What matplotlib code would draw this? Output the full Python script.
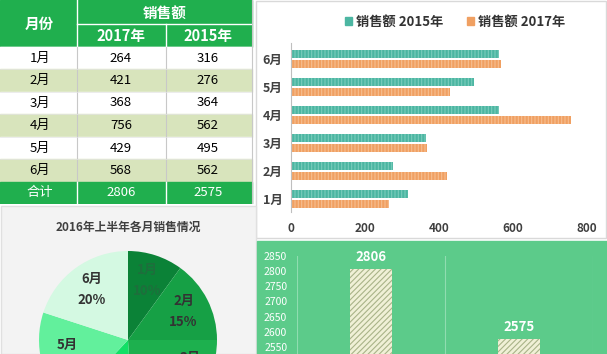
import numpy as np
import matplotlib.pyplot as plt
from matplotlib.patches import Rectangle, Patch

plt.rcParams['font.family'] = ['Noto Sans CJK SC', 'DejaVu Sans']
plt.rcParams['hatch.linewidth'] = 0.8

# data
months = ['1月', '2月', '3月', '4月', '5月', '6月']
sales_2017 = [264, 421, 368, 756, 429, 568]
sales_2015 = [316, 276, 364, 562, 495, 562]
pie_share_2016 = [10, 15, 24, 13, 18, 20]   # percent, 2016 first half
total_2017 = sum(sales_2017)
total_2015 = sum(sales_2015)
totals = [total_2017, total_2015]

W, H = 607, 354
fig = plt.figure(figsize=(W / 100, H / 100), dpi=100)


# pixel box (left, top, width, height) -> figure fraction
def box(x, y, w, h):
    return [x / W, 1 - (y + h) / H, w / W, h / H]


def panel(x, y, w, h, face, edge):
    fig.patches.append(Rectangle((x / W, 1 - (y + h) / H), w / W, h / H,
                                 transform=fig.transFigure, facecolor=face,
                                 edgecolor=edge, linewidth=1, zorder=-10))


panel(256, 0.5, 350, 237, 'white', '#D9D9D9')
panel(0.5, 206, 255, 148, '#F3F3F3', '#E0E0E0')
panel(257, 241, 350, 113, '#5CCB8A', '#5CCB8A')

# ---------------- table ----------------
green = '#20AF4E'
band = '#D8E4BC'
ax_t = fig.add_axes(box(0, 0, 255, 204))
ax_t.set_xlim(0, 255)
ax_t.set_ylim(204, 0)
ax_t.axis('off')
cols = [0, 77, 166, 252]
rows = [47, 69.3, 91.7, 114.3, 136.7, 159.3, 181.7, 203.5]
ax_t.add_patch(Rectangle((0, 0), 252, 47, color=green))
for i in range(6):
    c = 'white' if i % 2 == 0 else band
    ax_t.add_patch(Rectangle((0, rows[i]), 252, rows[i + 1] - rows[i], color=c))
ax_t.add_patch(Rectangle((0, rows[6]), 252, rows[7] - rows[6], color=green))
# grid lines
ax_t.plot([77, 252], [24, 24], color='white', lw=1)
ax_t.plot([0, 252], [47, 47], color='white', lw=1)
ax_t.plot([166, 166], [24, 47], color='white', lw=1)
ax_t.plot([77, 77], [0, 47], color='white', lw=1)
for x in cols[1:3]:
    ax_t.plot([x, x], [47, rows[6]], color='#C8C8C8', lw=0.8)
    ax_t.plot([x, x], [rows[6], rows[7]], color='white', lw=1)
for y in rows[1:6]:
    ax_t.plot([0, 252], [y, y], color='#E4E4E4', lw=0.5)
ax_t.plot([252, 252], [0, rows[7]], color='#C8C8C8', lw=0.8)

hdr = dict(color='white', fontsize=10.5, fontweight='bold', ha='center', va='center')
ax_t.text(39, 24, '月份', **hdr)
ax_t.text(165, 13, '销售额', **hdr)
ax_t.text(121, 36, '2017年', **hdr)
ax_t.text(208, 36, '2015年', **hdr)
cell = dict(color='black', fontsize=9.5, ha='center', va='center')
for i in range(6):
    yc = (rows[i] + rows[i + 1]) / 2
    ax_t.text(40, yc, months[i], **cell)
    ax_t.text(121, yc, str(sales_2017[i]), **cell)
    ax_t.text(208, yc, str(sales_2015[i]), **cell)
yc = (rows[6] + rows[7]) / 2
tot = dict(color='white', fontsize=9.5, ha='center', va='center')
ax_t.text(40, yc, '合计', **tot)
ax_t.text(121, yc, str(total_2017), **tot)
ax_t.text(208, yc, str(total_2015), **tot)

# ---------------- horizontal bars ----------------
teal = '#4CB6A2'
orange = '#F0A062'
ax_b = fig.add_axes(box(291, 43, 296, 169))
ypos = list(range(len(months)))
ax_b.barh([y + 0.19 for y in ypos], sales_2015, 0.29, color=teal,
          edgecolor='#7ACCBC', hatch='|||||', linewidth=0)
ax_b.barh([y - 0.19 for y in ypos], sales_2017, 0.29, color=orange,
          edgecolor='#F6BE90', hatch='|||||', linewidth=0)
ax_b.set_xlim(0, 800)
ax_b.set_ylim(-0.46, 5.57)
ax_b.set_yticks(ypos)
ax_b.set_yticklabels(months, fontsize=9, fontweight='bold', color='#404040')
ax_b.set_xticks([0, 200, 400, 600, 800])
ax_b.tick_params(axis='x', length=0, pad=7, labelsize=8.5, labelcolor='#404040')
ax_b.tick_params(axis='y', length=0, pad=6)
for lab in ax_b.get_xticklabels():
    lab.set_fontweight('bold')
for s in ['top', 'right', 'bottom']:
    ax_b.spines[s].set_visible(False)
ax_b.spines['left'].set_color('#BFBFBF')
ax_b.patch.set_alpha(0)
handles = [Patch(color=teal), Patch(color=orange)]
fig.legend(handles, ['销售额 2015年', '销售额 2017年'], loc='center',
           bbox_to_anchor=(455 / W, 1 - 22 / H), ncol=2, frameon=False,
           handlelength=0.55, handleheight=0.55, handletextpad=0.3,
           columnspacing=1.8, prop={'size': 9.5, 'weight': 'bold'},
           labelcolor='#333333')

# ---------------- pie ----------------
fig.text(128 / W, 1 - 227 / H, '2016年上半年各月销售情况', ha='center', va='center',
         fontsize=8.5, fontweight='bold', color='#404040')
pie_colors = ['#0B8237', '#16A045', '#1DB04E', '#12E066', '#62F09C', '#D4F9E2']
ax_p = fig.add_axes(box(128 - 89, 340 - 89, 178, 178))
wedges, texts = ax_p.pie(pie_share_2016, colors=pie_colors, startangle=90,
                         counterclock=False, labeldistance=0.7,
                         labels=[f'{m}\n{p}%' for m, p in zip(months, pie_share_2016)],
                         textprops=dict(fontsize=9.5, fontweight='bold',
                                        ha='center', va='center', linespacing=1.6,
                                        color='#333333'))
texts[0].set_color('#1E6E3C')
# excel "best fit" puts the 3月 label nearer the top edge of its slice
w3 = wedges[2]
a3 = np.deg2rad(max(w3.theta1, w3.theta2) - 0.28 * abs(w3.theta2 - w3.theta1))
texts[2].set_position((0.77 * np.cos(a3), 0.77 * np.sin(a3)))
ax_p.set_xlim(-1, 1)
ax_p.set_ylim(-1, 1)

# ---------------- total bars ----------------
ax_g = fig.add_axes(box(297, 256, 296, 106))
ax_g.patch.set_alpha(0)
ax_g.bar([0, 1], totals, 0.28, color='#F0F0D6', edgecolor='#A9B388',
         hatch='//////', linewidth=0)
ax_g.set_xlim(-0.5, 1.5)
ax_g.set_ylim(2500, 2850)
for x in [-0.5, 0.5, 1.5]:
    ax_g.axvline(x, color='#90DDB0', lw=0.8)
for i, v in enumerate(totals):
    ax_g.annotate(str(v), (i, v), xytext=(0, 9), textcoords='offset points',
                  ha='center', va='center', color='white', fontsize=9.5,
                  fontweight='bold', annotation_clip=False)
ax_g.set_yticks(range(2550, 2851, 50))
ax_g.set_xticks([])
ax_g.tick_params(axis='y', length=0, pad=7, labelsize=7.5, labelcolor='white')
for s in ax_g.spines.values():
    s.set_visible(False)

fig.savefig('out.png', dpi=100)
